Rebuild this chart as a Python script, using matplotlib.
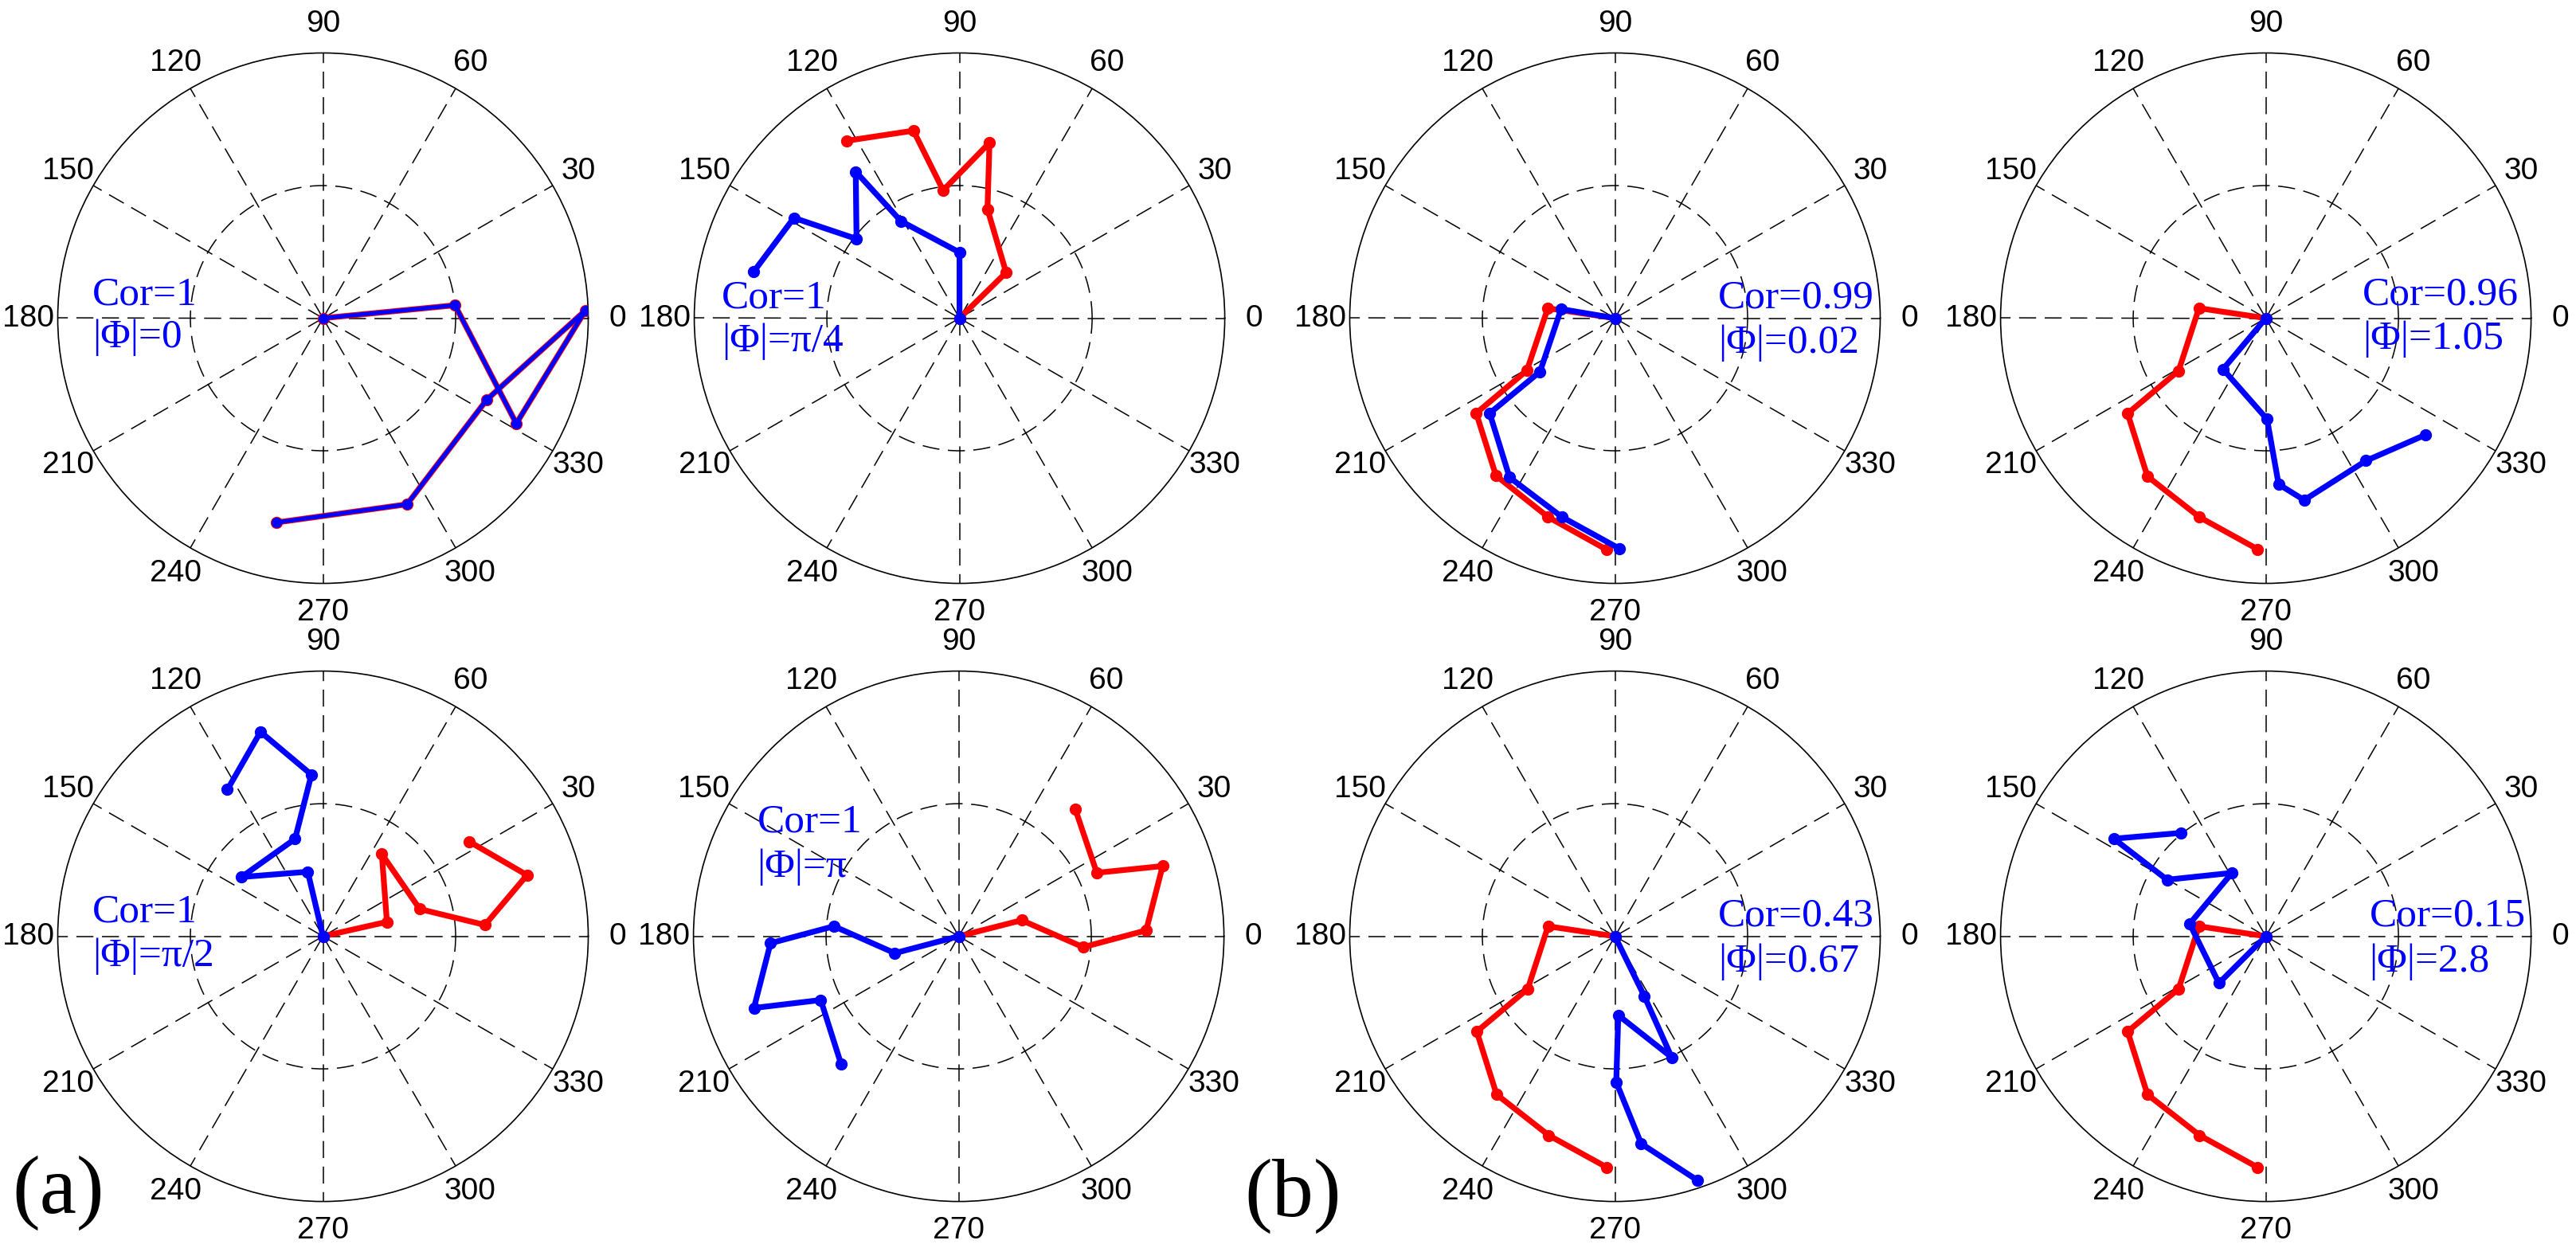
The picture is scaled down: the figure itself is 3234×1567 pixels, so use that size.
import numpy as np
import matplotlib
matplotlib.use("Agg")
import matplotlib.pyplot as plt

# angles in degrees, radius relative to the outer ring (outer ring = 1)
# every walk starts at the origin

# (a) identical signals shifted by a constant phase
A1_RED_THETA = [0, 5.6, 331.4, 1.7, 333.6, 294.3, 257.2]
A1_RED_R = [0, 0.50, 0.83, 0.99, 0.69, 0.77, 0.79]
A1_BLUE_THETA = A1_RED_THETA
A1_BLUE_R = A1_RED_R

A2_RED_THETA = [0, 44.4, 75.6, 80.3, 97.3, 103.8, 122.5]
A2_RED_R = [0, 0.246, 0.424, 0.671, 0.486, 0.728, 0.793]
A2_BLUE_THETA = [0, 90.0, 121.1, 125.3, 142.4, 148.8, 167.2]
A2_BLUE_R = [0, 0.248, 0.427, 0.677, 0.490, 0.730, 0.795]

A3_RED_THETA = [0, 12.7, 54.4, 15.7, 4.0, 16.7, 32.9]
A3_RED_R = [0, 0.247, 0.381, 0.379, 0.612, 0.803, 0.657]
A3_BLUE_THETA = [0, 103.3, 144.0, 106.0, 94.1, 107.0, 123.1]
A3_BLUE_R = [0, 0.250, 0.380, 0.382, 0.611, 0.806, 0.660]

A4_RED_THETA = [0, 14.3, 355.0, 1.8, 19.0, 24.7, 47.6]
A4_RED_R = [0, 0.245, 0.471, 0.707, 0.813, 0.573, 0.651]
A4_BLUE_THETA = [0, 194.8, 175.4, 182.1, 199.3, 204.8, 227.4]
A4_BLUE_R = [0, 0.249, 0.472, 0.710, 0.818, 0.573, 0.655]

# (b) one reference signal against measured signals
REF_THETA = [0, 171.5, 211.1, 214.6, 233.2, 251.6, 268.0]
REF_R = [0, 0.255, 0.384, 0.633, 0.745, 0.791, 0.872]

B1_BLUE_THETA = [0, 170.4, 215.5, 217.2, 236.5, 255.1, 271.1]
B1_BLUE_R = [0, 0.206, 0.347, 0.593, 0.720, 0.776, 0.869]
B1_RED_THETA = [0, 171.6, 210.7, 214.4, 232.9, 251.4, 267.9]
B1_RED_R = [0, 0.256, 0.386, 0.634, 0.744, 0.791, 0.873]

B2_BLUE_THETA = [0, 230.0, 270.7, 274.4, 281.9, 305.1, 323.9]
B2_BLUE_R = [0, 0.251, 0.381, 0.628, 0.701, 0.657, 0.746]

B3_BLUE_THETA = [0, 296.1, 295.1, 272.4, 270.5, 277.2, 288.7]
B3_BLUE_R = [0, 0.251, 0.504, 0.298, 0.550, 0.788, 0.972]

B4_BLUE_THETA = [0, 225.0, 170.7, 118.1, 150.2, 147.3, 129.5]
B4_BLUE_R = [0, 0.250, 0.291, 0.271, 0.429, 0.681, 0.505]

COR_LABELS = ["Cor=1", "Cor=1", "Cor=0.99", "Cor=0.96",
              "Cor=1", "Cor=1", "Cor=0.43", "Cor=0.15"]
PHI_LABELS = ["|Φ|=0", "|Φ|=π/4", "|Φ|=0.02", "|Φ|=1.05",
              "|Φ|=π/2", "|Φ|=π", "|Φ|=0.67", "|Φ|=2.8"]
ANGLE_TICKS = list(range(0, 360, 30))

PANELS = [
    (A1_RED_THETA, A1_RED_R, A1_BLUE_THETA, A1_BLUE_R),
    (A2_RED_THETA, A2_RED_R, A2_BLUE_THETA, A2_BLUE_R),
    (B1_RED_THETA, B1_RED_R, B1_BLUE_THETA, B1_BLUE_R),
    (REF_THETA, REF_R, B2_BLUE_THETA, B2_BLUE_R),
    (A3_RED_THETA, A3_RED_R, A3_BLUE_THETA, A3_BLUE_R),
    (A4_RED_THETA, A4_RED_R, A4_BLUE_THETA, A4_BLUE_R),
    (REF_THETA, REF_R, B3_BLUE_THETA, B3_BLUE_R),
    (REF_THETA, REF_R, B4_BLUE_THETA, B4_BLUE_R),
]

# layout, in pixels of the 3234 x 1567 canvas
W, H = 3234, 1567
RADIUS = 333
CENTERS = [(405.5, 399.5), (1204.6, 399.5), (2027.5, 399.5), (2844.6, 399.5),
           (405.5, 1175.6), (1203.6, 1175.6), (2027.5, 1175.6), (2844.6, 1175.6)]
# text anchors in axes fraction: (x, baseline of Cor line, baseline of Phi line)
TEXT_POS = [(0.065, 0.526, 0.445), (0.052, 0.519, 0.437),
            (0.695, 0.519, 0.435), (0.682, 0.526, 0.4425),
            (0.065, 0.527, 0.444), (0.120, 0.6965, 0.612),
            (0.695, 0.520, 0.434), (0.695, 0.520, 0.434)]

SERIF = "Liberation Serif"
SANS = "Liberation Sans"
DASH = (0, (14, 7))

fig = plt.figure(figsize=(W / 100, H / 100), dpi=100)

for i, (rt, rr, bt, br) in enumerate(PANELS):
    cx, cy = CENTERS[i]
    rect = [(cx - RADIUS) / W, (H - cy - RADIUS) / H, 2 * RADIUS / W, 2 * RADIUS / H]
    ax = fig.add_axes(rect, projection="polar")

    same = rt == bt and rr == br
    ax.plot(np.deg2rad(rt), rr, color="red", lw=5.2, marker="o", ms=10,
            solid_joinstyle="round", zorder=3)
    ax.plot(np.deg2rad(bt), br, color="blue", lw=3.8 if same else 5.2,
            marker="o", ms=8.5 if same else 10, solid_joinstyle="round", zorder=4)

    ax.set_ylim(0, 1)
    ax.set_rgrids([0.5], labels=[""])
    ax.set_thetagrids(ANGLE_TICKS, labels=[str(a) for a in ANGLE_TICKS],
                      fontsize=28, family=SANS)
    ax.tick_params(axis="x", pad=16)
    ax.grid(True, color="black", linestyle=DASH, linewidth=1.1)
    ax.spines["polar"].set_linewidth(1.2)
    ax.spines["polar"].set_color("black")

    tx, y1, y2 = TEXT_POS[i]
    ax.text(tx, y1, COR_LABELS[i], transform=ax.transAxes, color="blue",
            fontsize=37, family=SERIF, ha="left", va="baseline", zorder=5)
    ax.text(tx, y2, PHI_LABELS[i], transform=ax.transAxes, color="blue",
            fontsize=37, family=SERIF, ha="left", va="baseline", zorder=5)

fig.text(15 / W, (H - 1523) / H, "(a)", fontsize=75, family=SERIF,
         ha="left", va="baseline")
fig.text(1562 / W, (H - 1527) / H, "(b)", fontsize=75, family=SERIF,
         ha="left", va="baseline")

fig.savefig("out.png", dpi=100, facecolor="white")
